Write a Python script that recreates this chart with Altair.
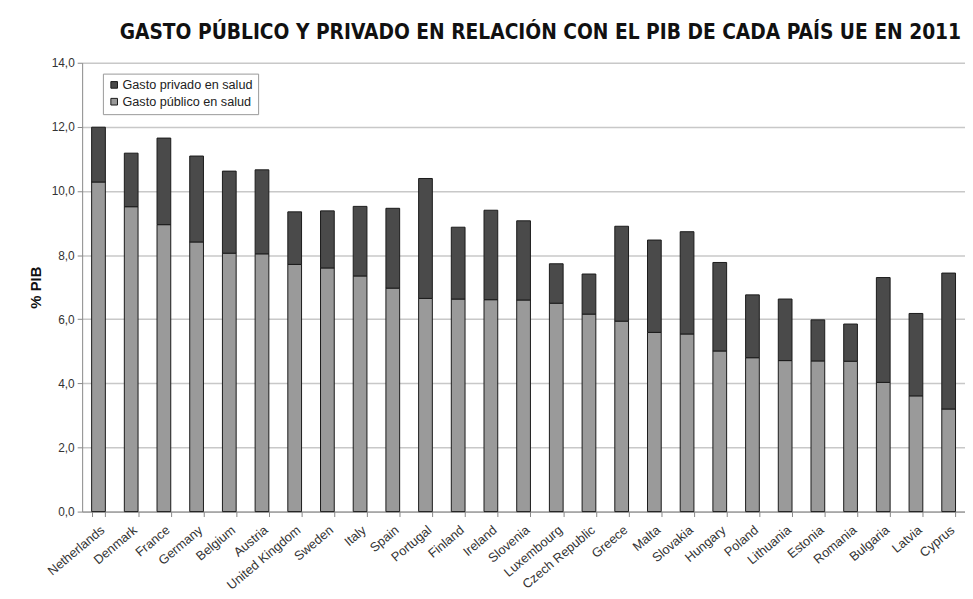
import altair as alt
import pandas as pd

countries = ["Netherlands", "Denmark", "France", "Germany", "Belgium", "Austria",
             "United Kingdom", "Sweden", "Italy", "Spain", "Portugal", "Finland",
             "Ireland", "Slovenia", "Luxembourg", "Czech Republic", "Greece", "Malta",
             "Slovakia", "Hungary", "Poland", "Lithuania", "Estonia", "Romania",
             "Bulgaria", "Latvia", "Cyprus"]
publico = [10.28, 9.51, 8.95, 8.41, 8.06, 8.04, 7.71, 7.60, 7.35, 6.97, 6.65, 6.63,
           6.61, 6.60, 6.50, 6.16, 5.94, 5.59, 5.54, 5.01, 4.80, 4.71, 4.70, 4.69,
           4.03, 3.61, 3.20]
privado = [1.71, 1.67, 2.70, 2.68, 2.56, 2.62, 1.64, 1.78, 2.17, 2.49, 3.74, 2.24,
           2.79, 2.47, 1.23, 1.25, 2.96, 2.88, 3.19, 2.76, 1.96, 1.92, 1.28, 1.16,
           3.27, 2.57, 4.24]
series = ["Gasto privado en salud", "Gasto público en salud"]
title = "GASTO PÚBLICO Y PRIVADO EN RELACIÓN CON EL PIB DE CADA PAÍS UE EN 2011"

rows = []
for c, pu, pr in zip(countries, publico, privado):
    rows.append({"pais": c, "serie": series[1], "valor": pu, "ord": 0})
    rows.append({"pais": c, "serie": series[0], "valor": pr, "ord": 1})
df = pd.DataFrame(rows)

chart = alt.Chart(df).mark_bar(stroke="#1a1a1a", strokeWidth=1).encode(
    x=alt.X("pais:N", sort=countries, title=None,
            scale=alt.Scale(paddingInner=0.58, paddingOuter=0.29),
            axis=alt.Axis(labelAngle=320, labelAlign="right", labelBaseline="top",
                          labelFontSize=13, labelColor="#333333", labelFont="Liberation Sans",
                          tickBand="extent", tickSize=5, tickColor="#888888",
                          domainColor="#888888", labelPadding=7, grid=False)),
    y=alt.Y("valor:Q", title="% PIB", stack="zero",
            scale=alt.Scale(domain=[0, 14], nice=False),
            axis=alt.Axis(values=[0, 2, 4, 6, 8, 10, 12, 14],
                          labelExpr="replace(format(datum.value, '.1f'), '.', ',')",
                          labelFontSize=12, labelColor="#333333", labelFont="Liberation Sans",
                          titleFontSize=15, titleFont="Liberation Sans", titleFontWeight="bold",
                          titleColor="#111111", titlePadding=8,
                          tickSize=5, tickColor="#888888", domainColor="#888888",
                          gridColor="#c8c8c8", gridWidth=1.5, labelPadding=3)),
    color=alt.Color("serie:N", scale=alt.Scale(domain=series, range=["#4a4a4a", "#9a9a9a"]),
                    legend=alt.Legend(title=None, orient="none", legendX=21, legendY=11,
                                      symbolType="square", symbolSize=45,
                                      symbolStrokeColor="#1a1a1a", symbolStrokeWidth=1,
                                      labelFontSize=12.8, labelFont="Liberation Sans",
                                      labelColor="#222222", strokeColor="#999999",
                                      fillColor="white", padding=5, rowPadding=3,
                                      labelOffset=2, labelLimit=300)),
    order=alt.Order("ord:Q"),
).properties(
    width=893, height=454,
    title=alt.TitleParams(title, fontSize=21, font="DejaVu Sans Condensed, Liberation Sans",
                          fontWeight="bold", color="#111111", offset=14, dx=17),
    padding={"left": 20, "top": 11, "right": 0, "bottom": 0},
).configure_view(stroke=None)

chart.save("out.html", embed_options={"renderer": "svg", "actions": False})
